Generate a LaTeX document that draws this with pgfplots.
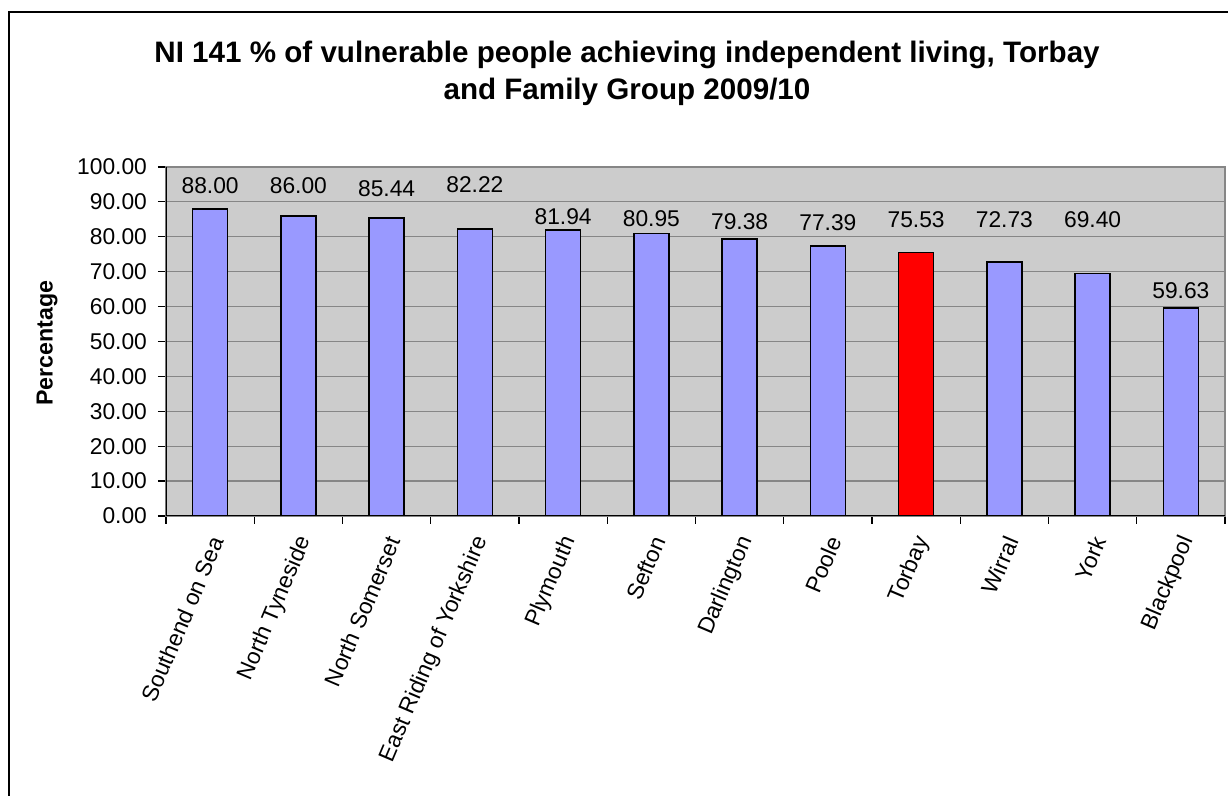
\documentclass[border=0pt]{standalone}
\usepackage{fontspec}
\setmainfont{Liberation Sans}
\usepackage{pgfplots}
\pgfplotsset{compat=1.18}
\usepackage{pgfplotstable}
\definecolor{barblue}{HTML}{9999FF}
\definecolor{plotgrey}{HTML}{CCCCCC}
\definecolor{gridgrey}{HTML}{868686}

% x = category position, y = value
\pgfplotstableread{
x y
0.5 88.00
1.5 86.00
2.5 85.44
3.5 82.22
4.5 81.94
5.5 80.95
6.5 79.38
7.5 77.39
9.5 72.73
10.5 69.40
11.5 59.63
}\bluebars

\pgfplotstableread{
x y
8.5 75.53
}\redbars

% data label positions as placed in the original chart
\pgfplotstableread{
x ly lab
0.5 94.6 88.00
1.5 94.6 86.00
2.5 93.7 85.44
3.5 94.8 82.22
4.5 85.7 81.94
5.5 85.1 80.95
6.5 84.2 79.38
7.5 84.0 77.39
8.5 84.8 75.53
9.5 84.8 72.73
10.5 84.8 69.40
11.5 64.5 59.63
}\labels

\begin{document}
\begin{tikzpicture}
\path[use as bounding box] (0,0) rectangle (614pt,398pt);
\draw[line width=0.7pt] (4.5pt,-20pt) rectangle (640pt,392pt);
\node[font=\bfseries\fontsize{14.8}{17}\selectfont, anchor=base] at (313.5pt,366.5pt)
  {NI 141 \% of vulnerable people achieving independent living, Torbay};
\node[font=\bfseries\fontsize{14.8}{17}\selectfont, anchor=base] at (313.5pt,348pt)
  {and Family Group 2009/10};
\node[font=\bfseries\fontsize{11.6}{13}\selectfont, rotate=90] at (23.5pt,226.5pt) {Percentage};
\begin{axis}[
  at={(83pt,140pt)}, anchor=south west,
  scale only axis, width=529.5pt, height=174.5pt,
  xmin=0, xmax=12, ymin=0, ymax=100,
  axis background/.style={fill=plotgrey},
  axis line style={gridgrey, line width=0.6pt},
  ytick={0,10,...,100},
  scaled y ticks=false,
  ymajorgrids,
  grid style={gridgrey, line width=0.6pt},
  yticklabel style={font=\fontsize{11.4}{13}\selectfont, xshift=-2pt,
    /pgf/number format/.cd, fixed, fixed zerofill, precision=2, assume math mode=true},
  xtick={0.5,1.5,...,11.5},
  xticklabels={Southend on Sea, North Tyneside, North Somerset, East Riding of Yorkshire,
    Plymouth, Sefton, Darlington, Poole, Torbay, Wirral, York, Blackpool},
  xticklabel style={font=\fontsize{11.4}{13}\selectfont, rotate=67, anchor=east,
    yshift=-6pt, xshift=-1.5pt},
  minor xtick={0,1,...,12},
  xtick pos=bottom, ytick pos=left,
  tick align=outside,
  major tick length=4pt, minor tick length=4pt,
  major x tick style={draw=none},
  minor x tick style={black, line width=0.6pt},
  ytick style={black, line width=0.6pt},
]
\addplot[ybar, bar width=17.5pt, bar shift=0pt, fill=barblue, draw=black, line width=0.7pt]
  table[x=x, y=y] {\bluebars};
\addplot[ybar, bar width=17.5pt, bar shift=0pt, fill=red, draw=black, line width=0.7pt]
  table[x=x, y=y] {\redbars};
\addplot[draw=none, mark=none, nodes near coords, point meta=explicit symbolic,
  nodes near coords style={anchor=center, font=\fontsize{11.4}{13}\selectfont, text=black}]
  table[x=x, y=ly, meta=lab] {\labels};
\draw[black, line width=0.7pt] (rel axis cs:0,1) -- (rel axis cs:0,0) -- (rel axis cs:1,0);
\end{axis}
\end{tikzpicture}
\end{document}
